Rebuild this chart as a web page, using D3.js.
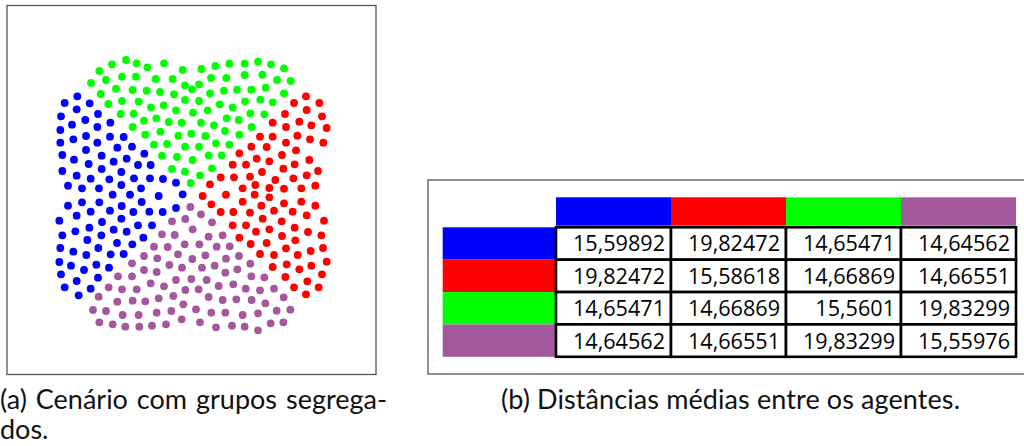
<!DOCTYPE html>
<html>
<head>
<meta charset="utf-8">
<script src="https://cdn.jsdelivr.net/npm/d3@7"></script>
<style>
  html, body { margin: 0; padding: 0; background: #fff; overflow: hidden; }
  svg { display: block; }
</style>
</head>
<body>
<svg id="fig" width="1024" height="446"></svg>
<script>
// ---- Groups -------------------------------------------------------------
const groups = ["azul", "vermelho", "verde", "roxo"];
const groupColors = ["#0000ff", "#ff0000", "#00ff00", "#a3589e"];

// ---- Agent positions per group (arena units, y grows downward) ----------
const bluePts = [
  [232,289],[194,309],[269,310],[230,328],[183,349],[294,342],[256,360],[216,374],[331,368],
  [181,390],[292,381],[258,408],[220,418],[330,410],[371,411],[181,428],[292,428],[352,443],
  [396,440],[258,450],[433,461],[187,465],[305,467],[222,479],[380,476],[341,485],[266,492],
  [414,495],[452,495],[187,513],[305,507],[364,516],[230,527],[328,538],[402,535],[450,535],
  [272,536],[489,537],[528,548],[204,557],[246,565],[297,565],[364,555],[423,565],[338,584],
  [390,584],[476,588],[548,583],[204,617],[246,607],[298,607],[365,618],[425,606],[330,632],
  [272,635],[400,636],[448,635],[488,636],[528,624],[230,647],[178,662],[306,666],[364,656],
  [226,694],[268,683],[341,689],[414,676],[456,676],[187,706],[304,706],[380,695],[262,720],
  [430,713],[351,729],[181,744],[220,755],[295,744],[397,733],[259,765],[332,763],[371,762],
  [178,786],[213,797],[289,794],[252,810],[327,803],[183,823],[230,843],[294,833],[194,862],
  [272,866],[236,886]
];
const redPts = [
  [918,289],[882,309],[958,309],[920,330],[855,342],[966,349],[818,368],[898,365],[858,381],
  [934,376],[980,384],[780,410],[818,410],[892,407],[930,418],[858,428],[970,428],[754,440],
  [800,441],[888,451],[718,460],[770,476],[808,484],[846,465],[928,480],[698,494],[738,494],
  [884,493],[850,506],[954,513],[662,532],[702,532],[750,530],[786,516],[826,540],[880,535],
  [920,526],[630,553],[728,565],[766,555],[808,564],[852,566],[904,565],[946,557],[608,588],
  [678,584],[764,584],[808,592],[634,613],[728,605],[784,617],[852,610],[904,605],[946,617],
  [662,636],[700,636],[750,638],[822,632],[878,635],[920,646],[788,656],[698,676],[738,676],
  [845,664],[972,662],[768,695],[808,688],[884,683],[924,696],[718,713],[752,732],[800,729],
  [846,708],[886,721],[964,706],[780,762],[822,765],[858,745],[893,765],[932,753],[969,744],
  [818,801],[860,793],[898,808],[934,797],[980,785],[856,831],[922,844],[966,823],[882,862],
  [918,883],[956,862]
];
const greenPts = [
  [378,180],[336,193],[410,190],[442,202],[492,190],[298,213],[548,210],[604,207],[646,198],
  [688,191],[734,191],[774,185],[813,193],[852,205],[273,249],[318,240],[366,230],[408,230],
  [467,237],[518,237],[555,256],[597,253],[633,234],[679,234],[734,225],[787,224],[831,240],
  [872,243],[302,282],[348,266],[398,270],[440,272],[480,276],[522,283],[576,268],[630,280],
  [672,272],[711,269],[754,269],[797,263],[852,280],[325,312],[366,303],[416,305],[453,322],
  [491,316],[555,300],[597,303],[659,313],[698,322],[735,304],[781,299],[818,307],[362,342],
  [401,341],[469,355],[528,331],[579,338],[623,331],[680,355],[716,360],[751,340],[793,343],
  [398,381],[432,362],[506,366],[545,368],[603,368],[642,376],[675,393],[755,381],[436,404],
  [481,395],[535,407],[574,401],[616,408],[718,404],[462,434],[501,432],[555,440],[597,440],
  [648,430],[688,434],[486,467],[531,471],[578,480],[626,466],[665,466],[516,507],[555,515],
  [600,526],[636,505],[572,549]
];
const purplePts = [
  [571,621],[603,643],[516,664],[556,657],[636,667],[578,688],[486,703],[524,705],[626,710],
  [668,706],[462,740],[503,741],[554,733],[598,733],[650,740],[689,739],[432,768],[472,775],
  [534,763],[577,777],[616,766],[678,776],[717,768],[396,790],[432,810],[508,795],[546,803],
  [606,803],[644,797],[712,808],[751,791],[354,829],[396,829],[470,816],[528,840],[574,837],
  [620,840],[676,818],[754,829],[793,832],[452,850],[492,859],[326,862],[366,868],[410,868],
  [556,870],[596,868],[656,858],[700,853],[737,866],[780,871],[822,866],[296,890],[520,888],
  [476,895],[352,905],[398,902],[436,904],[626,891],[668,900],[709,898],[755,900],[796,910],
  [851,892],[279,930],[318,933],[550,913],[368,945],[416,945],[470,938],[514,933],[588,928],
  [634,938],[676,938],[728,945],[774,940],[830,932],[871,929],[298,967],[338,973],[376,980],
  [418,980],[456,977],[498,973],[545,958],[600,967],[648,982],[696,977],[734,980],[774,991],
  [812,970],[850,967]
];
const arenaX = [21, 1128];
const arenaY = [16.5, 1123.5];

// ---- Mean distances between agents (row group -> column group) ----------
const distBlue   = [15.59892, 19.82472, 14.65471, 14.64562];
const distRed    = [19.82472, 15.58618, 14.66869, 14.66551];
const distGreen  = [14.65471, 14.66869, 15.5601,  19.83299];
const distPurple = [14.64562, 14.66551, 19.83299, 15.55976];

// ---- Captions -----------------------------------------------------------
const captionA1 = ["(a)", "Cenário", "com", "grupos", "segrega-"];
const captionA2 = "dos.";
const captionB  = "(b) Distâncias médias entre os agentes.";

// =========================================================================
const svg = d3.select("#fig");

// ---- Panel (a): agent scatter ------------------------------------------
const panelA = { x0: 7, x1: 376, y0: 5.5, y1: 374.5 };
const sx = d3.scaleLinear().domain(arenaX).range([panelA.x0, panelA.x1]);
const sy = d3.scaleLinear().domain(arenaY).range([panelA.y0, panelA.y1]);

svg.append("rect")
  .attr("x", panelA.x0).attr("y", panelA.y0)
  .attr("width", panelA.x1 - panelA.x0).attr("height", panelA.y1 - panelA.y0)
  .attr("fill", "#fff").attr("stroke", "#555").attr("stroke-width", 1.3);

const pointSets = [bluePts, redPts, greenPts, purplePts];
const gPts = svg.append("g");
pointSets.forEach((pts, i) => {
  gPts.selectAll(null).data(pts).join("circle")
    .attr("cx", d => sx(d[0]))
    .attr("cy", d => sy(d[1]))
    .attr("r", 3.9)
    .attr("fill", groupColors[i]);
});

// ---- Panel (b): distance table -----------------------------------------
svg.append("rect")
  .attr("x", 428).attr("y", 180)
  .attr("width", 640).attr("height", 194)
  .attr("fill", "#fff").attr("stroke", "#555").attr("stroke-width", 1.3);

const matrix = [distBlue, distRed, distGreen, distPurple];
const colX = d3.scaleBand().domain(groups).range([556, 1016]);
const rowY = d3.scaleBand().domain(groups).range([227.3, 356.8]);
const header = { y0: 197.3, y1: 225.7 };
const rowLabel = { x0: 442.7, x1: 556 };

// column header swatches
svg.append("g").selectAll("rect").data(groups).join("rect")
  .attr("x", g => colX(g)).attr("y", header.y0)
  .attr("width", colX.bandwidth()).attr("height", header.y1 - header.y0)
  .attr("fill", (g, i) => groupColors[i]);

// row header swatches
svg.append("g").selectAll("rect").data(groups).join("rect")
  .attr("x", rowLabel.x0).attr("y", g => rowY(g))
  .attr("width", rowLabel.x1 - rowLabel.x0).attr("height", rowY.bandwidth())
  .attr("fill", (g, i) => groupColors[i]);

// value cells
const cells = [];
matrix.forEach((row, r) => row.forEach((v, c) => cells.push({ r: groups[r], c: groups[c], v })));
const fmt = v => String(v).replace(".", ",");
const fontSize = 21.6;

const gCells = svg.append("g");
gCells.selectAll("rect").data(cells).join("rect")
  .attr("x", d => colX(d.c)).attr("y", d => rowY(d.r))
  .attr("width", colX.bandwidth()).attr("height", rowY.bandwidth())
  .attr("fill", "#fff").attr("stroke", "#000").attr("stroke-width", 2.6);

gCells.selectAll("text").data(cells).join("text")
  .attr("x", d => colX(d.c) + colX.bandwidth() - 6)
  .attr("y", d => rowY(d.r) + rowY.bandwidth() / 2 + fontSize * 0.37)
  .attr("text-anchor", "end")
  .style("font-family", "'Open Sans', sans-serif")
  .style("font-size", fontSize + "px")
  .attr("fill", "#000")
  .text(d => fmt(d.v));

// ---- Captions -----------------------------------------------------------
const capStyle = t => t
  .style("font-family", "Lato, 'Liberation Sans', sans-serif")
  .style("font-size", "27px")
  .attr("fill", "#111");

// (a): first line justified across [0, 387] with equal word gaps
const lineA = { x0: 0, x1: 387 };
const capA = svg.append("text").attr("y", 409).call(capStyle);
const spans = capA.selectAll("tspan").data(captionA1).join("tspan").text(w => w);
const widths = spans.nodes().map(n => n.getComputedTextLength());
const gap = (lineA.x1 - lineA.x0 - d3.sum(widths)) / (captionA1.length - 1);
let cursor = lineA.x0;
spans.attr("x", (w, i) => { const x = cursor; cursor += widths[i] + gap; return x; });
svg.append("text").attr("x", 0).attr("y", 439).call(capStyle).text(captionA2);

// (b): single line stretched to its set width
svg.append("text")
  .attr("x", 501).attr("y", 409)
  .attr("textLength", 459).attr("lengthAdjust", "spacing")
  .call(capStyle)
  .text(captionB);
</script>
</body>
</html>
